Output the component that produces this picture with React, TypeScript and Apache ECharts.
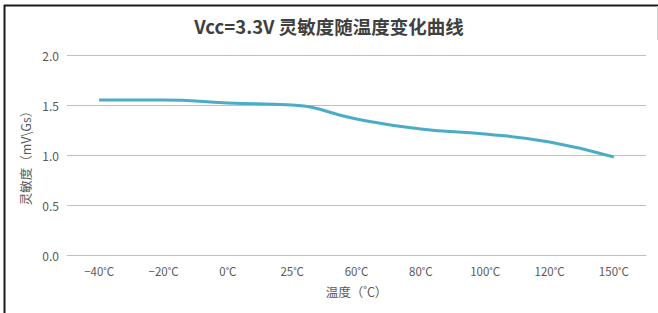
import React, { useEffect, useRef } from "react";
import * as echarts from "echarts";

const categories = ["−40˚C", "−20˚C", "0˚C", "25˚C", "60˚C", "80˚C", "100˚C", "120˚C", "150˚C"];
const sensitivity = [1.55, 1.55, 1.52, 1.5, 1.36, 1.26, 1.21, 1.13, 0.98];
const titleText = "Vcc=3.3V 灵敏度随温度变化曲线";
const yName = "灵敏度（mV\\Gs）";
const xName = "温度（˚C）";

export default function App() {
  const ref = useRef<HTMLDivElement>(null);
  useEffect(() => {
    document.body.style.margin = "0";
    const chart = echarts.init(ref.current!, null, { renderer: "svg" });
    const font = "'Noto Sans CJK SC', 'Noto Sans', sans-serif";
    chart.setOption({
      animation: false,
      backgroundColor: "#ffffff",
      textStyle: { fontFamily: font },
      title: {
        text: titleText,
        left: "center",
        top: 12,
        textStyle: { fontSize: 18.5, fontWeight: "bold", color: "#404040", fontFamily: font },
      },
      grid: { left: 67, right: 12, top: 55, bottom: 58 },
      xAxis: {
        type: "category",
        data: categories,
        boundaryGap: true,
        axisLine: { show: true, lineStyle: { color: "#bfbfbf", width: 1 } },
        axisTick: { show: false },
        axisLabel: { color: "#595959", fontSize: 11.5, margin: 10, fontFamily: font },
        name: xName,
        nameLocation: "middle",
        nameGap: 30,
        nameTextStyle: { color: "#595959", fontSize: 12.5, fontFamily: font },
      },
      yAxis: {
        type: "value",
        min: 0,
        max: 2,
        interval: 0.5,
        axisLine: { show: false },
        axisTick: { show: false },
        splitLine: { lineStyle: { color: "#bfbfbf", width: 1 } },
        axisLabel: {
          color: "#595959",
          fontSize: 12,
          margin: 8,
          fontFamily: font,
          formatter: (v: number) => v.toFixed(1),
        },
        name: yName,
        nameLocation: "middle",
        nameGap: 30,
        nameRotate: 90,
        nameTextStyle: { color: "#595959", fontSize: 12.5, fontFamily: font },
      },
      series: [
        {
          type: "line",
          data: sensitivity,
          smooth: true,
          showSymbol: false,
          symbol: "none",
          lineStyle: { color: "#4bacc6", width: 3 },
          itemStyle: { color: "#4bacc6" },
        },
      ],
      graphic: [
        { type: "line", shape: { x1: 4, y1: 5.5, x2: 658, y2: 5.5 }, style: { stroke: "#1a1a1a", lineWidth: 2 }, silent: true },
        { type: "line", shape: { x1: 4.5, y1: 5, x2: 4.5, y2: 313 }, style: { stroke: "#1a1a1a", lineWidth: 2 }, silent: true },
        { type: "line", shape: { x1: 657.5, y1: 6, x2: 657.5, y2: 40 }, style: { stroke: "#d0d0d0", lineWidth: 1 }, silent: true },
      ],
    });
    return () => chart.dispose();
  }, []);
  return <div ref={ref} style={{ width: 658, height: 313 }} />;
}
